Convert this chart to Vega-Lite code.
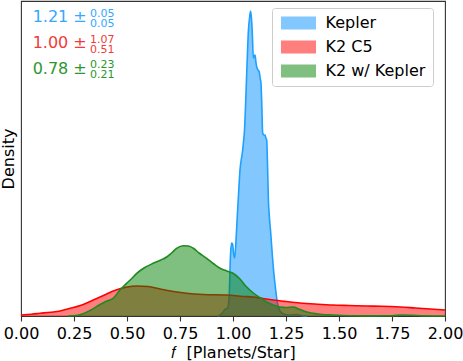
{
  "$schema": "https://vega.github.io/schema/vega-lite/v6.json",
  "width": 424,
  "height": 315,
  "autosize": {"type": "none"},
  "padding": {"left": 21, "top": 1, "right": 18, "bottom": 45},
  "background": "white",
  "config": {
    "font": "DejaVu Sans",
    "view": {"stroke": "#333", "strokeWidth": 1.1},
    "axis": {"domain": false, "grid": false, "labelFont": "DejaVu Sans", "titleFont": "DejaVu Sans", "labelColor": "#000", "titleColor": "#000", "titleFontWeight": "normal"}
  },
  "datasets": {
    "curves": [
      {"series": "Kepler", "f": 0.93, "d": 0},
      {"series": "Kepler", "f": 0.95, "d": 3},
      {"series": "Kepler", "f": 0.962, "d": 6.5},
      {"series": "Kepler", "f": 0.975, "d": 8},
      {"series": "Kepler", "f": 0.982, "d": 20},
      {"series": "Kepler", "f": 0.988, "d": 60},
      {"series": "Kepler", "f": 0.993, "d": 73},
      {"series": "Kepler", "f": 0.998, "d": 72},
      {"series": "Kepler", "f": 1.003, "d": 62},
      {"series": "Kepler", "f": 1.008, "d": 58},
      {"series": "Kepler", "f": 1.014, "d": 75},
      {"series": "Kepler", "f": 1.02, "d": 99},
      {"series": "Kepler", "f": 1.027, "d": 125},
      {"series": "Kepler", "f": 1.033, "d": 146},
      {"series": "Kepler", "f": 1.04, "d": 158},
      {"series": "Kepler", "f": 1.044, "d": 163},
      {"series": "Kepler", "f": 1.049, "d": 173},
      {"series": "Kepler", "f": 1.054, "d": 185},
      {"series": "Kepler", "f": 1.06, "d": 215},
      {"series": "Kepler", "f": 1.064, "d": 239},
      {"series": "Kepler", "f": 1.068, "d": 262},
      {"series": "Kepler", "f": 1.072, "d": 283},
      {"series": "Kepler", "f": 1.078, "d": 298},
      {"series": "Kepler", "f": 1.083, "d": 305},
      {"series": "Kepler", "f": 1.087, "d": 298},
      {"series": "Kepler", "f": 1.091, "d": 283},
      {"series": "Kepler", "f": 1.096, "d": 258},
      {"series": "Kepler", "f": 1.1, "d": 260},
      {"series": "Kepler", "f": 1.104, "d": 261},
      {"series": "Kepler", "f": 1.108, "d": 254},
      {"series": "Kepler", "f": 1.112, "d": 249},
      {"series": "Kepler", "f": 1.118, "d": 246},
      {"series": "Kepler", "f": 1.124, "d": 244},
      {"series": "Kepler", "f": 1.128, "d": 238},
      {"series": "Kepler", "f": 1.132, "d": 233},
      {"series": "Kepler", "f": 1.136, "d": 210},
      {"series": "Kepler", "f": 1.14, "d": 183},
      {"series": "Kepler", "f": 1.146, "d": 181},
      {"series": "Kepler", "f": 1.151, "d": 181},
      {"series": "Kepler", "f": 1.155, "d": 178},
      {"series": "Kepler", "f": 1.159, "d": 176},
      {"series": "Kepler", "f": 1.163, "d": 150},
      {"series": "Kepler", "f": 1.167, "d": 116},
      {"series": "Kepler", "f": 1.172, "d": 98},
      {"series": "Kepler", "f": 1.178, "d": 83},
      {"series": "Kepler", "f": 1.184, "d": 65},
      {"series": "Kepler", "f": 1.19, "d": 49},
      {"series": "Kepler", "f": 1.197, "d": 34},
      {"series": "Kepler", "f": 1.203, "d": 23},
      {"series": "Kepler", "f": 1.208, "d": 15},
      {"series": "Kepler", "f": 1.214, "d": 9},
      {"series": "Kepler", "f": 1.222, "d": 5},
      {"series": "Kepler", "f": 1.23, "d": 3},
      {"series": "Kepler", "f": 1.26, "d": 1},
      {"series": "Kepler", "f": 1.3, "d": 1.5},
      {"series": "Kepler", "f": 1.32, "d": 0.5},
      {"series": "Kepler", "f": 1.35, "d": 0},
      {"series": "K2 C5", "f": 0.0, "d": 1},
      {"series": "K2 C5", "f": 0.05, "d": 1.8},
      {"series": "K2 C5", "f": 0.09, "d": 2.7},
      {"series": "K2 C5", "f": 0.14, "d": 3.8},
      {"series": "K2 C5", "f": 0.184, "d": 5},
      {"series": "K2 C5", "f": 0.231, "d": 7.7},
      {"series": "K2 C5", "f": 0.28, "d": 10.5},
      {"series": "K2 C5", "f": 0.31, "d": 13},
      {"series": "K2 C5", "f": 0.341, "d": 16},
      {"series": "K2 C5", "f": 0.373, "d": 19},
      {"series": "K2 C5", "f": 0.404, "d": 22},
      {"series": "K2 C5", "f": 0.435, "d": 25},
      {"series": "K2 C5", "f": 0.47, "d": 27.5},
      {"series": "K2 C5", "f": 0.5, "d": 29},
      {"series": "K2 C5", "f": 0.546, "d": 30},
      {"series": "K2 C5", "f": 0.6, "d": 29.5},
      {"series": "K2 C5", "f": 0.656, "d": 27},
      {"series": "K2 C5", "f": 0.72, "d": 24.5},
      {"series": "K2 C5", "f": 0.78, "d": 22.7},
      {"series": "K2 C5", "f": 0.86, "d": 21.5},
      {"series": "K2 C5", "f": 0.97, "d": 21},
      {"series": "K2 C5", "f": 1.05, "d": 19.5},
      {"series": "K2 C5", "f": 1.096, "d": 19},
      {"series": "K2 C5", "f": 1.14, "d": 17.5},
      {"series": "K2 C5", "f": 1.19, "d": 16},
      {"series": "K2 C5", "f": 1.25, "d": 14.5},
      {"series": "K2 C5", "f": 1.316, "d": 13},
      {"series": "K2 C5", "f": 1.4, "d": 11.8},
      {"series": "K2 C5", "f": 1.47, "d": 11},
      {"series": "K2 C5", "f": 1.55, "d": 10.5},
      {"series": "K2 C5", "f": 1.63, "d": 10},
      {"series": "K2 C5", "f": 1.7, "d": 9.8},
      {"series": "K2 C5", "f": 1.79, "d": 9},
      {"series": "K2 C5", "f": 1.86, "d": 8},
      {"series": "K2 C5", "f": 1.93, "d": 7},
      {"series": "K2 C5", "f": 2.0, "d": 6},
      {"series": "K2 w/ Kepler", "f": 0.22, "d": 0},
      {"series": "K2 w/ Kepler", "f": 0.26, "d": 0.5},
      {"series": "K2 w/ Kepler", "f": 0.29, "d": 2},
      {"series": "K2 w/ Kepler", "f": 0.33, "d": 6},
      {"series": "K2 w/ Kepler", "f": 0.373, "d": 11.5},
      {"series": "K2 w/ Kepler", "f": 0.4, "d": 14.5},
      {"series": "K2 w/ Kepler", "f": 0.436, "d": 18},
      {"series": "K2 w/ Kepler", "f": 0.467, "d": 26},
      {"series": "K2 w/ Kepler", "f": 0.498, "d": 32.7},
      {"series": "K2 w/ Kepler", "f": 0.52, "d": 37},
      {"series": "K2 w/ Kepler", "f": 0.546, "d": 42.7},
      {"series": "K2 w/ Kepler", "f": 0.58, "d": 48},
      {"series": "K2 w/ Kepler", "f": 0.624, "d": 52.7},
      {"series": "K2 w/ Kepler", "f": 0.66, "d": 56},
      {"series": "K2 w/ Kepler", "f": 0.687, "d": 59},
      {"series": "K2 w/ Kepler", "f": 0.71, "d": 63},
      {"series": "K2 w/ Kepler", "f": 0.734, "d": 67.7},
      {"series": "K2 w/ Kepler", "f": 0.766, "d": 70.3},
      {"series": "K2 w/ Kepler", "f": 0.79, "d": 70},
      {"series": "K2 w/ Kepler", "f": 0.813, "d": 67.7},
      {"series": "K2 w/ Kepler", "f": 0.84, "d": 63},
      {"series": "K2 w/ Kepler", "f": 0.876, "d": 57.7},
      {"series": "K2 w/ Kepler", "f": 0.91, "d": 52},
      {"series": "K2 w/ Kepler", "f": 0.939, "d": 47.7},
      {"series": "K2 w/ Kepler", "f": 0.97, "d": 45},
      {"series": "K2 w/ Kepler", "f": 1.0, "d": 42.7},
      {"series": "K2 w/ Kepler", "f": 1.033, "d": 37},
      {"series": "K2 w/ Kepler", "f": 1.06, "d": 30},
      {"series": "K2 w/ Kepler", "f": 1.096, "d": 23},
      {"series": "K2 w/ Kepler", "f": 1.13, "d": 18},
      {"series": "K2 w/ Kepler", "f": 1.159, "d": 14},
      {"series": "K2 w/ Kepler", "f": 1.19, "d": 11},
      {"series": "K2 w/ Kepler", "f": 1.222, "d": 9},
      {"series": "K2 w/ Kepler", "f": 1.25, "d": 8.5},
      {"series": "K2 w/ Kepler", "f": 1.285, "d": 9},
      {"series": "K2 w/ Kepler", "f": 1.31, "d": 7},
      {"series": "K2 w/ Kepler", "f": 1.348, "d": 4},
      {"series": "K2 w/ Kepler", "f": 1.4, "d": 2},
      {"series": "K2 w/ Kepler", "f": 1.47, "d": 1},
      {"series": "K2 w/ Kepler", "f": 1.55, "d": 0.3},
      {"series": "K2 w/ Kepler", "f": 1.65, "d": 0.1},
      {"series": "K2 w/ Kepler", "f": 1.75, "d": 0.3},
      {"series": "K2 w/ Kepler", "f": 1.8, "d": 1},
      {"series": "K2 w/ Kepler", "f": 1.84, "d": 0.8},
      {"series": "K2 w/ Kepler", "f": 1.9, "d": 0.1},
      {"series": "K2 w/ Kepler", "f": 2.0, "d": 0}
    ],
    "annMain": [
      {"series": "Kepler", "x": 0.055, "y": 294, "text": "1.21 ±"},
      {"series": "K2 C5", "x": 0.055, "y": 268, "text": "1.00 ±"},
      {"series": "K2 w/ Kepler", "x": 0.055, "y": 242, "text": "0.78 ±"}
    ],
    "annSmall": [
      {"series": "Kepler", "x": 0.326, "y": 299.3, "text": "0.05"},
      {"series": "Kepler", "x": 0.326, "y": 289.3, "text": "0.05"},
      {"series": "K2 C5", "x": 0.326, "y": 273.3, "text": "1.07"},
      {"series": "K2 C5", "x": 0.326, "y": 263.3, "text": "0.51"},
      {"series": "K2 w/ Kepler", "x": 0.326, "y": 248.3, "text": "0.23"},
      {"series": "K2 w/ Kepler", "x": 0.326, "y": 237.7, "text": "0.21"}
    ]
  },
  "data": {"name": "curves"},
  "encoding": {
    "x": {
      "field": "f", "type": "quantitative",
      "scale": {"domain": [0, 2], "nice": false},
      "axis": {
        "values": [0, 0.25, 0.5, 0.75, 1, 1.25, 1.5, 1.75, 2],
        "format": ".2f", "labelFontSize": 16, "tickSize": 5, "tickColor": "#333", "tickWidth": 1.1,
        "labelOverlap": false, "labelFlush": false, "labelBound": false,
        "labelPadding": 4, "title": "𝑓\u00a0\u00a0[Planets/Star]", "titleFontSize": 16, "titlePadding": 3
      }
    },
    "y": {
      "field": "d", "type": "quantitative",
      "scale": {"domain": [0, 315], "nice": false},
      "axis": {"labels": false, "ticks": false, "title": "Density", "titleFontSize": 16, "titlePadding": 5}
    }
  },
  "layer": [
    {
      "transform": [{"filter": "datum.series === 'Kepler'"}],
      "mark": {"type": "area", "fillOpacity": 0.5, "interpolate": "monotone"},
      "encoding": {
        "fill": {
          "field": "series", "type": "nominal",
          "scale": {"domain": ["Kepler", "K2 C5", "K2 w/ Kepler"], "range": ["#0591ff", "#ff0000", "#008000"]},
          "legend": {
            "title": null, "orient": "none", "legendX": 251, "legendY": 7,
            "symbolType": "M-2.92,-1.08H2.92V1.08H-2.92Z", "symbolSize": 144, "symbolOffset": 11.5, "symbolOpacity": 0.5, "symbolStrokeWidth": 0,
            "labelFontSize": 16, "labelFont": "DejaVu Sans", "labelColor": "#000", "labelOffset": 19,
            "rowPadding": 8, "padding": 7, "strokeColor": "#cccccc", "cornerRadius": 3, "fillColor": "rgba(255,255,255,0.8)"
          }
        }
      }
    },
    {
      "transform": [{"filter": "datum.series === 'Kepler'"}],
      "mark": {"type": "line", "color": "#1ea0ff", "strokeWidth": 1.6, "interpolate": "monotone"}
    },
    {
      "transform": [{"filter": "datum.series === 'K2 C5'"}],
      "mark": {"type": "area", "fillOpacity": 0.5, "interpolate": "monotone"},
      "encoding": {"fill": {"field": "series", "type": "nominal"}}
    },
    {
      "transform": [{"filter": "datum.series === 'K2 C5'"}],
      "mark": {"type": "line", "color": "#ff0000", "strokeWidth": 1.6, "interpolate": "monotone"}
    },
    {
      "transform": [{"filter": "datum.series === 'K2 w/ Kepler'"}],
      "mark": {"type": "area", "fillOpacity": 0.5, "interpolate": "monotone"},
      "encoding": {"fill": {"field": "series", "type": "nominal"}}
    },
    {
      "transform": [{"filter": "datum.series === 'K2 w/ Kepler'"}],
      "mark": {"type": "line", "color": "#1f8a1f", "strokeWidth": 1.6, "interpolate": "monotone"}
    },
    {
      "data": {"name": "annMain"},
      "mark": {"type": "text", "align": "left", "baseline": "alphabetic", "fontSize": 16, "font": "DejaVu Sans"},
      "encoding": {
        "x": {"field": "x", "type": "quantitative"},
        "y": {"field": "y", "type": "quantitative"},
        "text": {"field": "text"},
        "color": {"field": "series", "type": "nominal", "scale": {"domain": ["Kepler", "K2 C5", "K2 w/ Kepler"], "range": ["#33a8ff", "#f23a3a", "#2e962e"]}, "legend": null}
      }
    },
    {
      "data": {"name": "annSmall"},
      "mark": {"type": "text", "align": "left", "baseline": "alphabetic", "fontSize": 11, "font": "DejaVu Sans"},
      "encoding": {
        "x": {"field": "x", "type": "quantitative"},
        "y": {"field": "y", "type": "quantitative"},
        "text": {"field": "text"},
        "color": {"field": "series", "type": "nominal", "legend": null}
      }
    }
  ]
}
